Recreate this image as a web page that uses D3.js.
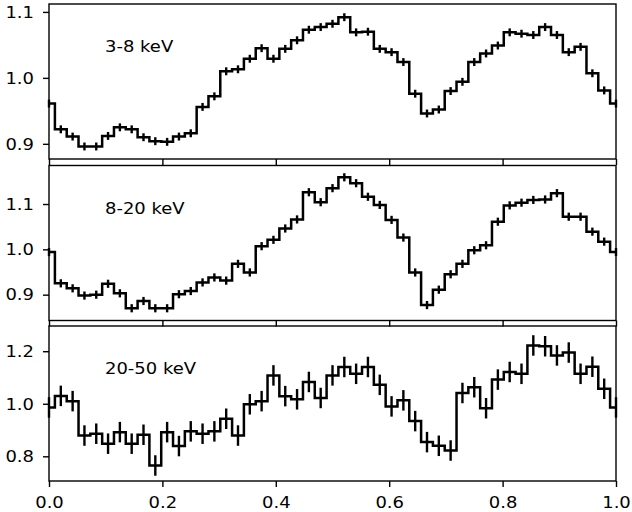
<!DOCTYPE html>
<html>
<head>
<meta charset="utf-8">
<script src="https://cdnjs.cloudflare.com/ajax/libs/d3/7.8.5/d3.min.js"></script>
<style>
  body { margin: 0; background: #fff; }
  svg { display: block; }
  text { font-family: "DejaVu Sans", sans-serif; fill: #000; }
</style>
</head>
<body>
<div id="chart"></div>
<script>
// phase bins (48 bins, first bin repeated at phase 1)
var nBins = 48;
var phase = d3.range(nBins + 1).map(function(i) { return i / nBins; });

// normalised count rate per band
var band1 = [0.961, 0.922, 0.911, 0.896, 0.896, 0.912, 0.925, 0.922, 0.910, 0.904, 0.903, 0.911, 0.916, 0.956, 0.972, 1.010,
             1.013, 1.029, 1.045, 1.029, 1.044, 1.057, 1.073, 1.077, 1.082, 1.092, 1.069, 1.070, 1.044, 1.039, 1.024, 0.976,
             0.946, 0.952, 0.980, 0.994, 1.024, 1.037, 1.049, 1.069, 1.067, 1.065, 1.077, 1.065, 1.039, 1.047, 1.007, 0.981, 0.961];
var band2 = [0.994, 0.925, 0.914, 0.898, 0.900, 0.924, 0.903, 0.870, 0.886, 0.870, 0.870, 0.901, 0.908, 0.927, 0.938, 0.931, 0.968,
             0.949, 1.007, 1.021, 1.046, 1.066, 1.126, 1.104, 1.135, 1.159, 1.146, 1.116, 1.098, 1.065, 1.026, 0.949, 0.877,
             0.911, 0.945, 0.968, 0.998, 1.009, 1.061, 1.097, 1.103, 1.109, 1.110, 1.124, 1.072, 1.072, 1.039, 1.017, 0.994];
var band3 = [0.986, 1.030, 1.010, 0.879, 0.886, 0.848, 0.892, 0.848, 0.882, 0.765, 0.892, 0.839, 0.895, 0.886, 0.895, 0.943, 0.879,
             0.998, 1.010, 1.108, 1.029, 1.017, 1.083, 1.022, 1.108, 1.140, 1.114, 1.140, 1.072, 0.990, 1.013, 0.934, 0.854,
             0.840, 0.822, 1.041, 1.063, 0.983, 1.092, 1.121, 1.114, 1.222, 1.219, 1.184, 1.195, 1.114, 1.141, 1.057, 0.986];

var bandLabels = ["3-8 keV", "8-20 keV", "20-50 keV"];
var bandErrors = [0.006, 0.009, 0.039];

// axis settings
var yTicks = [[0.9, 1.0, 1.1], [0.9, 1.0, 1.1], [0.8, 1.0, 1.2]];
var yDomains = [[0.877, 1.112], [0.843, 1.185], [0.706, 1.296]];
var xTicks = [0, 0.2, 0.4, 0.6, 0.8, 1.0];

var bands = [band1, band2, band3];

var w = 632, h = 512;
var panelTops = [4, 165.5, 326];
var panelH = 155;
var fontSize = 16.5;
var stretch = 1.09;

var svg = d3.select("#chart")
            .append("svg")
            .attr("width", w)
            .attr("height", h);

var xScale = d3.scaleLinear()
               .domain([0, 1])
               .range([49, 616]);

bands.forEach(function(values, k) {

  var top = panelTops[k];
  var yScale = d3.scaleLinear()
                 .domain(yDomains[k])
                 .range([top + panelH, top]);

  var g = svg.append("g").attr("class", "panel");

  //step line (steps-mid)
  var line = d3.line()
               .x(function(d, i) { return xScale(phase[i]); })
               .y(function(d) { return yScale(d); })
               .curve(d3.curveStep);

  g.append("path")
   .datum(values)
   .attr("d", line)
   .attr("fill", "none")
   .attr("stroke", "#000")
   .attr("stroke-width", 2.5)
   .attr("stroke-linejoin", "miter");

  //error bars
  g.selectAll(".err")
   .data(values)
   .enter()
   .append("line")
   .attr("class", "err")
   .attr("x1", function(d, i) { return xScale(phase[i]); })
   .attr("x2", function(d, i) { return xScale(phase[i]); })
   .attr("y1", function(d) { return yScale(d - bandErrors[k]); })
   .attr("y2", function(d) { return yScale(d + bandErrors[k]); })
   .attr("stroke", "#000")
   .attr("stroke-width", 2.4);

  //y axis
  var yAxis = d3.axisLeft(yScale)
                .tickValues(yTicks[k])
                .tickFormat(d3.format(".1f"))
                .tickSize(6)
                .tickPadding(9);

  var ya = g.append("g")
            .attr("transform", "translate(" + xScale(0) + ",0)")
            .call(yAxis);
  ya.select(".domain").remove();
  ya.selectAll("line").attr("stroke", "#000").attr("stroke-width", 1.4);
  ya.selectAll("text")
    .attr("x", null)
    .attr("transform", "translate(-15,0) scale(" + stretch + ",1)")
    .style("font-size", fontSize + "px")
    .style("font-family", "DejaVu Sans, sans-serif");

  //x axis (labels only on the bottom panel)
  var xAxis = d3.axisBottom(xScale)
                .tickValues(xTicks)
                .tickFormat(k === 2 ? d3.format(".1f") : "")
                .tickSize(6)
                .tickPadding(9);

  var xa = g.append("g")
            .attr("transform", "translate(0," + (top + panelH) + ")")
            .call(xAxis);
  xa.select(".domain").remove();
  xa.selectAll("line").attr("stroke", "#000").attr("stroke-width", 1.4);
  xa.selectAll("text")
    .attr("y", null)
    .attr("transform", "translate(0,15) scale(" + stretch + ",1)")
    .style("font-size", fontSize + "px")
    .style("font-family", "DejaVu Sans, sans-serif");

  //frame
  g.append("rect")
   .attr("x", xScale(0))
   .attr("y", top)
   .attr("width", xScale(1) - xScale(0))
   .attr("height", panelH)
   .attr("fill", "none")
   .attr("stroke", "#000")
   .attr("stroke-width", 1.4);

  //band label
  g.append("text")
   .attr("transform", "translate(" + 105 + "," + (top + 48) + ") scale(" + stretch + ",1)")
   .style("font-size", fontSize + "px")
   .text(bandLabels[k]);
});
</script>
</body>
</html>
